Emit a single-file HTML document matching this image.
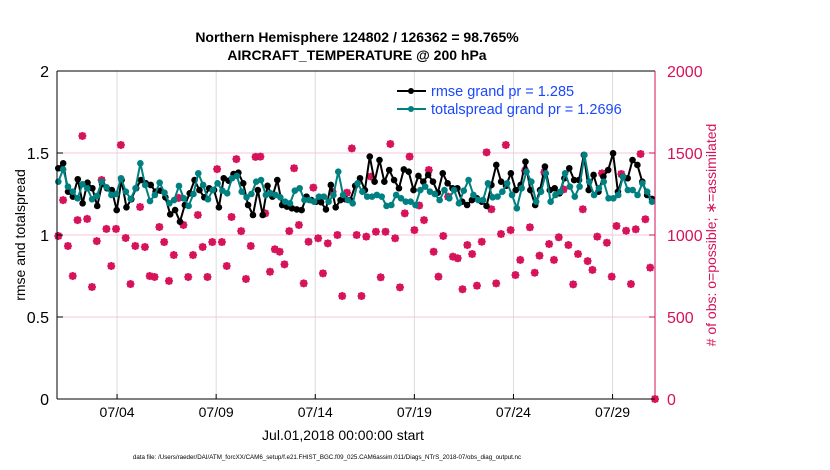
<!DOCTYPE html>
<html><head><meta charset="utf-8"><style>
html,body{margin:0;padding:0;background:#fff;}
svg{display:block;font-family:"Liberation Sans",Arial,sans-serif;}
</style></head><body>
<svg id="chart" width="830" height="470" viewBox="0 0 830 470">
<text x="357" y="42" text-anchor="middle" font-size="14" font-weight="bold">Northern Hemisphere 124802 / 126362 = 98.765%</text>
<text x="357" y="60" text-anchor="middle" font-size="14" font-weight="bold">AIRCRAFT_TEMPERATURE @ 200 hPa</text>
<g id="grid"></g>
<g id="obs"></g>
<g id="lines"></g>
<g id="axes"></g>
<text x="25" y="235" transform="rotate(-90 25 235)" text-anchor="middle" font-size="14">rmse and totalspread</text>
<text x="716" y="235" transform="rotate(-90 716 235)" text-anchor="middle" font-size="14" fill="#d6125a"># of obs: o=possible; ∗=assimilated</text>
<text x="343" y="440" text-anchor="middle" font-size="14">Jul.01,2018 00:00:00 start</text>
<text x="327" y="459" text-anchor="middle" font-size="6.2">data file: /Users/raeder/DAI/ATM_forcXX/CAM6_setup/f.e21.FHIST_BGC.f09_025.CAM6assim.011/Diags_NTrS_2018-07/obs_diag_output.nc</text>
<g>
<line x1="397" y1="91" x2="426" y2="91" stroke="#000" stroke-width="2"/><circle cx="411" cy="91" r="3" fill="#000"/>
<text x="431" y="96" font-size="14.5" fill="#1a47ff">rmse grand pr = 1.285</text>
<line x1="397" y1="109" x2="426" y2="109" stroke="#008080" stroke-width="2"/><circle cx="411" cy="109" r="3" fill="#008080"/>
<text x="431" y="114" font-size="14.5" fill="#1a47ff">totalspread grand pr = 1.2696</text>
</g>
</svg>
<script>
const rmse=[1.407,1.437,1.264,1.234,1.340,1.193,1.319,1.285,1.177,1.311,1.285,1.274,1.152,1.335,1.169,1.218,1.285,1.335,1.315,1.305,1.264,1.270,1.230,1.126,1.152,1.081,1.183,1.254,1.335,1.274,1.230,1.285,1.274,1.169,1.346,1.331,1.372,1.380,1.315,1.183,1.122,1.274,
1.122,1.30,1.234,1.335,1.183,1.173,1.163,1.156,1.152,1.234,1.213,1.203,1.20,1.156,1.305,1.169,1.213,1.218,1.213,1.30,1.346,1.274,1.478,1.325,1.457,1.325,1.396,1.335,1.285,1.400,1.386,1.274,1.360,1.325,1.366,1.325,1.258,1.376,1.315,1.285,
1.285,1.203,1.183,1.213,1.224,1.203,1.177,1.305,1.427,1.325,1.30,1.376,1.274,1.305,1.447,1.274,1.183,1.274,1.417,1.274,1.285,1.254,1.346,1.407,1.335,1.335,1.488,1.274,1.366,1.264,1.356,1.396,1.498,1.264,1.356,1.346,1.457,1.427,1.325,1.244,1.22];
const spread=[1.325,1.400,1.295,1.264,1.224,1.309,1.285,1.218,1.238,1.325,1.291,1.244,1.250,1.346,1.264,1.220,1.285,1.437,1.305,1.207,1.244,1.319,1.258,1.193,1.213,1.299,1.224,1.177,1.250,1.376,1.305,1.218,1.274,1.315,1.270,1.254,1.346,1.360,1.264,1.230,1.250,1.325,
1.335,1.244,1.254,1.244,1.23,1.203,1.193,1.27,1.285,1.213,1.213,1.203,1.234,1.234,1.203,1.244,1.386,1.244,1.213,1.193,1.315,1.264,1.234,1.234,1.244,1.234,1.177,1.183,1.244,1.224,1.203,1.203,1.183,1.274,1.295,1.264,1.25,1.213,1.274,1.224,
1.274,1.193,1.27,1.335,1.244,1.213,1.213,1.315,1.230,1.234,1.264,1.315,1.244,1.163,1.285,1.386,1.325,1.203,1.264,1.376,1.203,1.244,1.264,1.376,1.295,1.234,1.295,1.488,1.325,1.244,1.285,1.325,1.224,1.224,1.244,1.356,1.274,1.274,1.244,1.315,1.264,1.203];
const obsCount=[994,1213,933,750,1091,1604,1098,683,963,1335,1037,811,1037,1549,982,701,933,1171,927,750,744,1049,957,720,878,1226,1061,744,878,1122,927,744,957,1402,957,811,1110,1463,1024,732,933,1476,
1478,1132,776,913,898,821,1024,1407,1061,705,959,1289,980,766,949,1264,1000,628,1258,1528,1000,628,990,1356,1020,742,1020,1555,980,681,1132,1478,1030,1180,1091,1396,898,746,994,1234,868,
858,669,939,884,691,959,1504,1157,705,1006,1549,1030,756,848,1392,1047,770,874,1382,945,848,986,1278,939,699,884,1157,841,787,990,1376,953,746,1055,1372,1026,701,1035,1494,1096,801,0];
const xTickLabels=["07/04","07/09","07/14","07/19","07/24","07/29"];
const xTickDays=[4,9,14,19,24,29];
const yTicks=[0,0.5,1,1.5,2];
const y2Ticks=[0,500,1000,1500,2000];

const NS="http://www.w3.org/2000/svg";
const L=57,R=655,T=71,B=399;
function xDay(d){return 57.6+(d-1)*19.82;}
function yL(v){return B-(v/2)*(B-T);}
function yR(v){return B-(v/2000)*(B-T);}
function mk(tag,attrs,parent){const e=document.createElementNS(NS,tag);for(const k in attrs)e.setAttribute(k,attrs[k]);parent.appendChild(e);return e;}
const grid=document.getElementById('grid'),axes=document.getElementById('axes'),lines=document.getElementById('lines'),obs=document.getElementById('obs');
xTickDays.forEach((d,i)=>{
  const g=mk('line',{x1:xDay(d),x2:xDay(d),y1:T,y2:B,stroke:'#dcdcdc','stroke-width':1},grid);
  
  
  const t=mk('text',{x:xDay(d),y:B+18,'text-anchor':'middle','font-size':14},axes);
  t.textContent=xTickLabels[i];
  
  
  mk('line',{x1:xDay(d),x2:xDay(d),y1:B,y2:B-5,stroke:'#000'},axes);
});
y2Ticks.forEach(v=>{
  if(v>0&&v<2000){const g=mk('line',{x1:L,x2:R,y1:yR(v),y2:yR(v),stroke:'#f7c6d8','stroke-width':1},grid);
  
  }
  const t=mk('text',{x:R+12,y:yR(v)+6,'font-size':16,fill:'#d6125a'},axes);
  t.textContent=String(v);
  
  
  mk('line',{x1:R,x2:R-6,y1:yR(v),y2:yR(v),stroke:'#d6125a'},axes);
});
yTicks.forEach(v=>{
  const t=mk('text',{x:L-8,y:yL(v)+6,'text-anchor':'end','font-size':16},axes);
  t.textContent=String(v);
  
  
  mk('line',{x1:L,x2:L+6,y1:yL(v),y2:yL(v),stroke:'#000'},axes);
});
mk('line',{x1:L,x2:R,y1:T,y2:T,stroke:'#000'},axes);
mk('line',{x1:L,x2:R,y1:B,y2:B,stroke:'#000'},axes);
mk('line',{x1:L,x2:L,y1:T,y2:B,stroke:'#000'},axes);
mk('line',{x1:R,x2:R,y1:T,y2:B,stroke:'#d6125a'},axes);

const nO=obsCount.length;
obsCount.forEach((v,i)=>{
  const x=58.3+i*(655-58.3)/(nO-1),y=yR(v);
  const g=mk('g',{},obs);
  
  
  mk('circle',{cx:x,cy:y,r:3,fill:'none',stroke:'#d6125a','stroke-width':1.5},g);
  mk('path',{d:`M${x-4} ${y}H${x+4}M${x} ${y-4}V${y+4}M${x-3} ${y-3}L${x+3} ${y+3}M${x-3} ${y+3}L${x+3} ${y-3}`,stroke:'#d6125a','stroke-width':1.6},g);
});
function series(vals,color,name){
  const n=vals.length;
  const pts=vals.map((v,i)=>[58.3+i*(652-58.3)/(n-1),yL(v)]);
  const p=mk('polyline',{points:pts.map(p=>p.join(',')).join(' '),fill:'none',stroke:color,'stroke-width':2},lines);
  
  
  pts.forEach(q=>{
    const c=mk('circle',{cx:q[0],cy:q[1],r:3.3,fill:color},lines);
    
    
  });
}
series(rmse,'#000','rmse');
series(spread,'#008080','totalspread');
</script>
</body></html>
